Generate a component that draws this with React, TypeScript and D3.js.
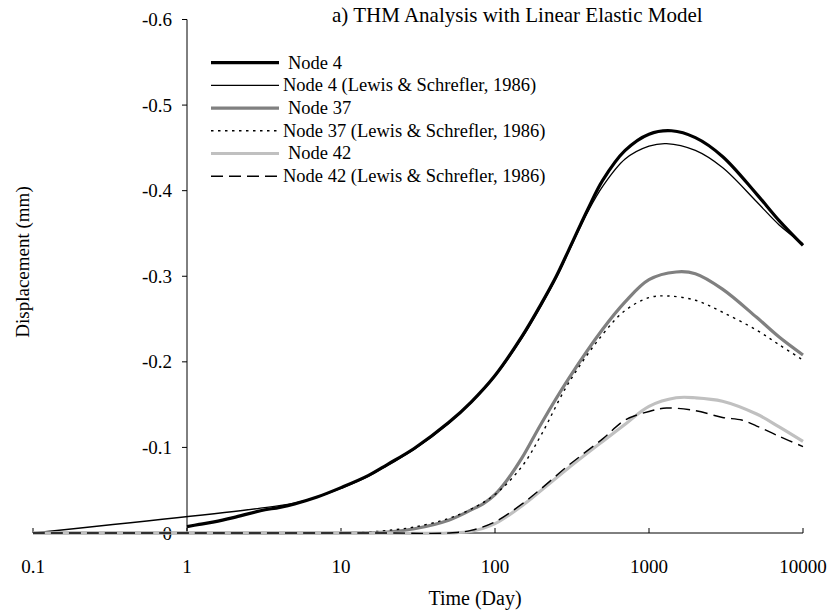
import React from "react";
import * as d3 from "d3";

// ---- data (time in days, displacement in mm) ----
const tNode4 = [1, 1.2, 1.5, 2, 3, 4, 5, 7, 10, 15, 20, 30, 50, 70, 100, 150, 200, 250, 300, 400, 500, 700, 1000, 1400, 2000, 3000, 5000, 7000, 10000];
const vNode4 = [-0.0075, -0.010, -0.013, -0.018, -0.026, -0.030, -0.034, -0.042, -0.053, -0.067, -0.080, -0.099, -0.129, -0.153, -0.184, -0.230, -0.268, -0.300, -0.330, -0.378, -0.412, -0.447, -0.466, -0.470, -0.462, -0.440, -0.396, -0.365, -0.336];

const tNode4Ref = [0.1, 3, 5, 7, 10, 15, 20, 30, 50, 70, 100, 150, 200, 250, 300, 400, 500, 700, 1000, 1300, 2000, 3000, 5000, 7000, 10000];
const vNode4Ref = [0, -0.029, -0.035, -0.042, -0.052, -0.066, -0.079, -0.098, -0.128, -0.152, -0.183, -0.228, -0.266, -0.298, -0.328, -0.375, -0.405, -0.437, -0.452, -0.455, -0.447, -0.427, -0.387, -0.360, -0.338];

const tNode37 = [0.1, 1, 10, 20, 30, 50, 70, 85, 100, 120, 150, 200, 300, 500, 700, 1000, 1500, 2000, 3000, 5000, 7000, 10000];
const vNode37 = [0, 0, 0, -0.001, -0.005, -0.015, -0.027, -0.035, -0.045, -0.062, -0.088, -0.128, -0.180, -0.238, -0.270, -0.296, -0.305, -0.303, -0.285, -0.252, -0.229, -0.208];

const tNode37Ref = [0.1, 1, 10, 15, 20, 30, 50, 70, 100, 150, 200, 300, 500, 700, 1000, 1300, 2000, 3000, 5000, 7000, 10000];
const vNode37Ref = [0, 0, 0, -0.001, -0.003, -0.007, -0.017, -0.028, -0.045, -0.078, -0.115, -0.175, -0.232, -0.260, -0.275, -0.277, -0.272, -0.258, -0.237, -0.220, -0.202];

const tNode42 = [0.1, 1, 10, 50, 70, 100, 150, 200, 300, 500, 700, 1000, 1500, 2000, 3000, 5000, 7000, 10000];
const vNode42 = [0, 0, 0, 0, -0.002, -0.011, -0.032, -0.050, -0.076, -0.107, -0.127, -0.148, -0.158, -0.158, -0.154, -0.139, -0.124, -0.107];

const tNode42Ref = [0.1, 1, 20, 50, 70, 100, 150, 200, 300, 500, 700, 1000, 1300, 2000, 3000, 4000, 5000, 7000, 10000];
const vNode42Ref = [0, 0, 0, 0, -0.003, -0.013, -0.034, -0.052, -0.079, -0.110, -0.132, -0.142, -0.146, -0.143, -0.135, -0.132, -0.125, -0.113, -0.101];

const seriesNames = [
  "Node 4",
  "Node 4 (Lewis & Schrefler, 1986)",
  "Node 37",
  "Node 37 (Lewis & Schrefler, 1986)",
  "Node 42",
  "Node 42 (Lewis & Schrefler, 1986)",
];

const xTicks = [0.1, 1, 10, 100, 1000, 10000];
const xTickLabels = ["0.1", "1", "10", "100", "1000", "10000"];
const yTicks = [0, -0.1, -0.2, -0.3, -0.4, -0.5, -0.6];
const yTickLabels = ["0", "-0.1", "-0.2", "-0.3", "-0.4", "-0.5", "-0.6"];

const titleText = "a) THM Analysis with Linear Elastic Model";
const xTitle = "Time (Day)";
const yTitle = "Displacement (mm)";

// ---- styles ----
const styles = [
  { color: "#000000", width: 3.2, dash: "" },
  { color: "#000000", width: 1.3, dash: "" },
  { color: "#808080", width: 3.2, dash: "" },
  { color: "#000000", width: 1.4, dash: "2.5,4.5" },
  { color: "#c0c0c0", width: 3.2, dash: "" },
  { color: "#000000", width: 1.4, dash: "12,6" },
];

const FONT = "'Liberation Serif', 'Times New Roman', serif";

export default function App() {
  const W = 833, H = 613;
  const x = d3.scaleLog().domain([0.1, 10000]).range([33, 803]);
  const y = d3.scaleLinear().domain([0, -0.6]).range([533, 19.5]);

  const data = [
    [tNode4, vNode4],
    [tNode4Ref, vNode4Ref],
    [tNode37, vNode37],
    [tNode37Ref, vNode37Ref],
    [tNode42, vNode42],
    [tNode42Ref, vNode42Ref],
  ];

  const line = d3
    .line<[number, number]>()
    .x((d) => x(d[0]))
    .y((d) => Math.min(y(0), y(d[1])))
    .curve(d3.curveCatmullRom.alpha(0.5));

  const yAxisX = x(1);
  const xAxisY = y(0);

  const legendX0 = 211, legendX1 = 279, legendY0 = 62.7, legendDY = 22.7;

  return (
    <svg width={W} height={H} style={{ position: "absolute", left: 0, top: 0, background: "#fff" }} fontFamily={FONT}>
      <rect x={0} y={0} width={W} height={H} fill="#fff" />
      {/* title */}
      <text x={332} y={22} fontSize={21} fill="#000">{titleText}</text>

      {/* x axis */}
      <line x1={x(0.1)} x2={x(10000)} y1={xAxisY} y2={xAxisY} stroke="#000" strokeWidth={1} />
      {xTicks.map((t, i) => (
        <g key={"xt" + i}>
          <line x1={x(t)} x2={x(t)} y1={xAxisY} y2={xAxisY - 5} stroke="#000" strokeWidth={1} />
          <text x={x(t)} y={573} fontSize={19} textAnchor="middle" fill="#000">{xTickLabels[i]}</text>
        </g>
      ))}
      <text x={475} y={605} fontSize={20} textAnchor="middle" fill="#000">{xTitle}</text>

      {/* y axis */}
      <line x1={yAxisX} x2={yAxisX} y1={y(0)} y2={y(-0.6)} stroke="#000" strokeWidth={1} />
      {yTicks.map((v, i) => (
        <g key={"yt" + i}>
          <line x1={yAxisX - 5} x2={yAxisX} y1={y(v)} y2={y(v)} stroke="#000" strokeWidth={1} />
          <text x={172} y={y(v) + 6.5} fontSize={19} textAnchor="end" fill="#000">{yTickLabels[i]}</text>
        </g>
      ))}
      <text transform={`translate(29,262) rotate(-90)`} fontSize={19} textAnchor="middle" fill="#000">{yTitle}</text>

      {/* series */}
      {data.map(([ts, vs], i) => {
        const pts = ts.map((t, k) => [t, vs[k]] as [number, number]);
        const s = styles[i];
        return (
          <path
            key={"s" + i}
            d={line(pts) || ""}
            fill="none"
            stroke={s.color}
            strokeWidth={s.width}
            strokeDasharray={s.dash || undefined}
            strokeLinejoin="round"
          />
        );
      })}

      {/* legend */}
      {seriesNames.map((name, i) => {
        const s = styles[i];
        const ly = legendY0 + i * legendDY;
        const isRef = name.includes("Lewis");
        return (
          <g key={"lg" + i}>
            <line x1={legendX0} x2={legendX1} y1={ly} y2={ly} stroke={s.color} strokeWidth={s.width} strokeDasharray={s.dash || undefined} />
            <text x={isRef ? 283 : 288} y={ly + 5.8} fontSize={18.5} fill="#000">{name}</text>
          </g>
        );
      })}
    </svg>
  );
}
